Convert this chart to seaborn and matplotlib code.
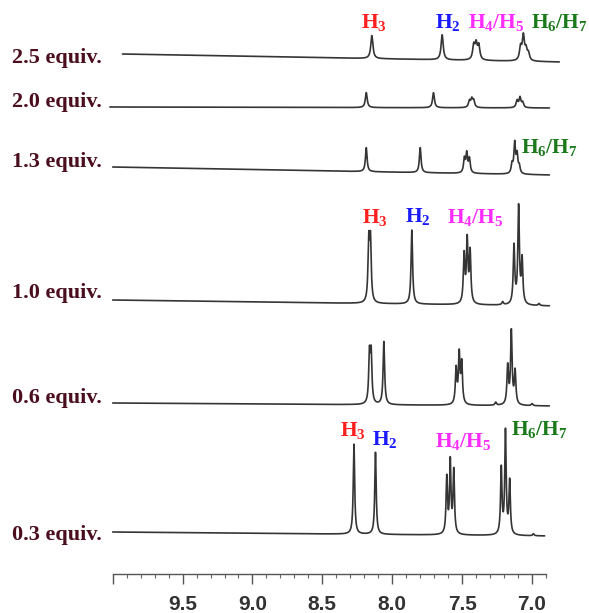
import numpy as np
import pandas as pd
import matplotlib
matplotlib.use("Agg")
import matplotlib.pyplot as plt
import seaborn as sns
from matplotlib.ticker import FixedLocator, MultipleLocator

sns.set_theme(style="white")
plt.rcParams["font.family"] = ["Liberation Sans", "DejaVu Sans"]
plt.rcParams["mathtext.fontset"] = "custom"
plt.rcParams["mathtext.rm"] = "Liberation Serif:bold"
plt.rcParams["mathtext.it"] = "Liberation Serif:bold"
plt.rcParams["mathtext.bf"] = "Liberation Serif:bold"

# ---- titration series (equivalents of guest added) ----
equiv_labels = ["2.5 equiv.", "2.0 equiv.", "1.3 equiv.", "1.0 equiv.", "0.6 equiv.", "0.3 equiv."]

# peak tables: chemical shift (ppm) and line amplitude
ppm_25 = [8.146, 7.643, 7.417, 7.400, 7.381, 7.082, 7.062, 7.043, 7.026]
int_25 = [23, 25, 14, 15, 14, 13, 24, 10, 7]

ppm_20 = [8.186, 7.705, 7.448, 7.431, 7.417, 7.107, 7.086, 7.067]
int_20 = [15, 15, 6.5, 8, 6.5, 7, 10, 5]

ppm_13 = [8.186, 7.800, 7.484, 7.467, 7.448, 7.143, 7.124, 7.107, 7.091]
int_13 = [24, 25, 14, 19, 14, 9, 30, 18, 7]

ppm_10 = [8.168, 8.156, 7.860, 7.486, 7.464, 7.443, 7.210, 7.129, 7.096, 7.071, 6.950]
int_10 = [59, 59, 74, 48, 62, 51, 3, 58, 97, 44, 2]

ppm_06 = [8.163, 8.151, 8.060, 7.543, 7.521, 7.503, 7.260, 7.174, 7.148, 7.121, 7.000]
int_06 = [48, 48, 63, 35, 49, 40, 3, 38, 73, 33, 2]

ppm_03 = [8.274, 8.120, 7.610, 7.585, 7.560, 7.220, 7.190, 7.160, 6.990]
int_03 = [90, 82, 56, 72, 63, 66, 103, 53, 2]

# Lorentzian half-widths (ppm) per trace
hwhm = [0.009, 0.008, 0.007, 0.0065, 0.0065, 0.006]

# trace extents (ppm) and baseline levels at each end
start_ppm = [9.93, 10.02, 10.00, 10.00, 10.00, 10.00]
end_ppm = [6.805, 6.876, 6.876, 6.876, 6.876, 6.910]
base_left = [520, 467, 407, 274, 171, 42]
base_right = [512, 466, 399, 268, 168, 38]

peak_ppm = [ppm_25, ppm_20, ppm_13, ppm_10, ppm_06, ppm_03]
peak_int = [int_25, int_20, int_13, int_10, int_06, int_03]

# ---- figure ----
W, H = 589, 613
fig = plt.figure(figsize=(W / 100, H / 100), dpi=100)
ax_l, ax_r, ax_y = 112.7, 546.0, 574.0
ax = fig.add_axes([ax_l / W, (H - ax_y) / H, (ax_r - ax_l) / W, ax_y / H])
ax.set_xlim(10.0, 6.9)
ax.set_ylim(0, ax_y)

line_color = "#353535"
for i in range(len(equiv_labels)):
    x = np.linspace(start_ppm[i], end_ppm[i], 6000)
    base = np.interp(x, [end_ppm[i], start_ppm[i]], [base_right[i], base_left[i]])
    y = base.copy()
    g = hwhm[i]
    for p, h in zip(peak_ppm[i], peak_int[i]):
        y += h / (1.0 + ((x - p) / g) ** 2)
    df = pd.DataFrame({"ppm": x, "signal": y})
    sns.lineplot(data=df, x="ppm", y="signal", ax=ax, sort=False,
                 estimator=None, color=line_color, linewidth=1.2)
    ax.lines[-1].set_clip_on(False)

# ---- axis styling ----
for s in ["left", "top", "right"]:
    ax.spines[s].set_visible(False)
ax.spines["bottom"].set_color("#555555")
ax.spines["bottom"].set_linewidth(1.0)
ax.set_xlabel("")
ax.set_ylabel("")
ax.set_yticks([])
major = [10.0, 9.5, 9.0, 8.5, 8.0, 7.5, 7.0]
ax.xaxis.set_major_locator(FixedLocator(major))
ax.set_xticklabels(["", "9.5", "9.0", "8.5", "8.0", "7.5", "7.0"])
ax.xaxis.set_minor_locator(MultipleLocator(0.1))
ax.tick_params(axis="x", which="major", direction="out", length=7, width=1.0,
               color="#555555", pad=8, labelsize=15, labelcolor="#333333", bottom=True)
ax.tick_params(axis="x", which="minor", direction="out", length=3, width=0.8,
               color="#666666", bottom=True)
for lab in ax.get_xticklabels():
    lab.set_fontweight("bold")
ax.grid(False)

# ---- equivalents labels ----
label_y = [58, 102, 162, 293, 398, 535]
for txt, yy in zip(equiv_labels, label_y):
    fig.text(12 / W, 1 - yy / H, txt, ha="left", va="center",
             fontfamily="Liberation Serif", fontweight="bold", fontsize=16,
             color="#4a0e1e")

# ---- proton assignments ----
red, blue, mag, green = "#ff1f1f", "#1a1aff", "#ff2cff", "#1a7a1a"
kw = dict(ha="center", va="baseline", fontfamily="Liberation Serif",
          fontweight="bold", fontsize=15.5)
assign = [
    # top trace
    ("H$_3$", 8.13, 546, red), ("H$_2$", 7.605, 546, blue),
    ("H$_4$/H$_5$", 7.255, 546, mag), ("H$_6$/H$_7$", 6.805, 546, green),
    # 1.3 equiv
    ("H$_6$/H$_7$", 6.876, 421, green),
    # 1.0 equiv
    ("H$_3$", 8.125, 351, red), ("H$_2$", 7.82, 352, blue),
    ("H$_4$/H$_5$", 7.405, 351, mag),
    # 0.3 equiv
    ("H$_3$", 8.283, 138, red), ("H$_2$", 8.055, 129, blue),
    ("H$_4$/H$_5$", 7.49, 127, mag), ("H$_6$/H$_7$", 6.948, 139, green),
]
for t, xx, yy, c in assign:
    ax.text(xx, yy, t, color=c, clip_on=False, **kw)

fig.savefig("out.png", dpi=100)
